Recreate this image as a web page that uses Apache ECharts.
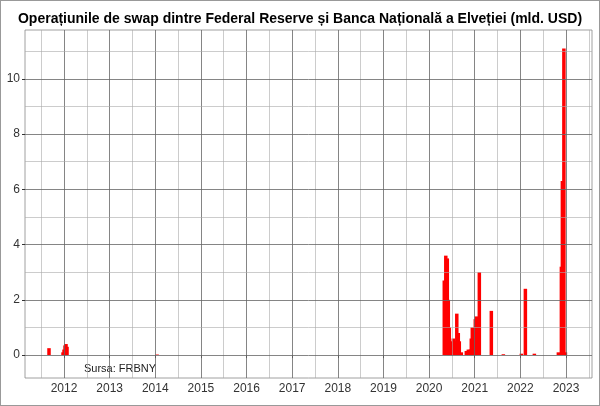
<!DOCTYPE html>
<html>
<head>
<meta charset="utf-8">
<script src="https://cdn.jsdelivr.net/npm/echarts@6/dist/echarts.min.js"></script>
<style>
  html, body { margin: 0; padding: 0; background: #fff; }
  #chart { width: 598px; height: 404px; border: 1px solid #999; }
</style>
</head>
<body>
<div id="chart"></div>
<script>
// date as decimal year, value in bn USD
var dates = [2011.671, 2011.978, 2012.0, 2012.022, 2012.044, 2012.066, 2014.04,
  2020.333, 2020.366, 2020.399, 2020.421, 2020.443, 2020.465, 2020.487, 2020.531, 2020.575,
  2020.607, 2020.640, 2020.662, 2020.706, 2020.816, 2020.860, 2020.904, 2020.925, 2020.947,
  2020.969, 2021.013, 2021.035, 2021.101, 2021.364, 2021.627, 2022.022, 2022.110, 2022.307,
  2022.833, 2022.899, 2022.921, 2022.954, 2022.987];
var values = [0.25, 0.1, 0.2, 0.35, 0.4, 0.3, 0.02,
  2.7, 3.6, 3.5, 2.0, 1.0, 0.5, 0.3, 0.6, 0.5,
  1.5, 0.8, 0.5, 0.1, 0.15, 0.2, 0.2, 0.6, 1.0,
  0.9, 1.3, 1.4, 3.0, 1.6, 0.03, 0.05, 2.4, 0.05,
  0.1, 3.2, 6.3, 11.1, 0.1];
var yearTicks = [2012, 2013, 2014, 2015, 2016, 2017, 2018, 2019, 2020, 2021, 2022, 2023];
var yTicks = [0, 2, 4, 6, 8, 10];

var xMin = 2011.145, xMax = 2023.57, yMin = -0.83, yMax = 11.77;

var gridLines = [];
for (var y = 2011.5; y < xMax; y += 0.5) {
  var major = y % 1 === 0;
  gridLines.push({ xAxis: y, lineStyle: { color: major ? '#666' : '#aaa', width: major ? 0.8 : 0.6, type: 'solid' } });
}
for (var v = 0; v < yMax; v += 1) {
  var majorY = v % 2 === 0;
  gridLines.push({ yAxis: v, lineStyle: { color: majorY ? '#666' : '#aaa', width: majorY ? 0.8 : 0.6, type: 'solid' } });
}

var chart = echarts.init(document.getElementById('chart'));
chart.setOption({
  animation: false,
  title: {
    text: 'Operațiunile de swap dintre Federal Reserve și Banca Națională a Elveției (mld. USD)',
    left: 'center', top: 6,
    textStyle: { fontFamily: 'Liberation Sans', fontSize: 14, fontWeight: 'bold', color: '#000' }
  },
  graphic: [{
    type: 'text', left: 82, top: 361,
    style: { text: 'Sursa: FRBNY', fontFamily: 'Liberation Sans', fontSize: 11, fill: '#222',
      backgroundColor: '#fff', padding: [1, 1] }
  }],
  grid: { left: 24, right: 7, top: 29, bottom: 27, show: true, borderColor: '#888', borderWidth: 0.8 },
  xAxis: {
    type: 'value', min: xMin, max: xMax,
    splitLine: { show: false },
    axisLine: { show: false },
    axisTick: { show: true, customValues: yearTicks, length: 3, lineStyle: { color: '#333' } },
    axisLabel: { customValues: yearTicks, formatter: function (v) { return String(v); },
      color: '#333', fontFamily: 'Liberation Sans', fontSize: 12, margin: 5 }
  },
  yAxis: {
    type: 'value', min: yMin, max: yMax,
    splitLine: { show: false },
    axisLine: { show: false },
    axisTick: { show: true, customValues: yTicks, length: 3, lineStyle: { color: '#333' } },
    axisLabel: { customValues: yTicks, color: '#333', fontFamily: 'Liberation Sans', fontSize: 12, margin: 5 }
  },
  series: [{
    type: 'bar',
    barWidth: 3.5,
    itemStyle: { color: '#ff0000' },
    data: dates.map(function (d, i) { return [d, values[i]]; }),
    markLine: { silent: true, symbol: 'none', label: { show: false }, data: gridLines },
    z: 3
  }]
});
</script>
</body>
</html>
